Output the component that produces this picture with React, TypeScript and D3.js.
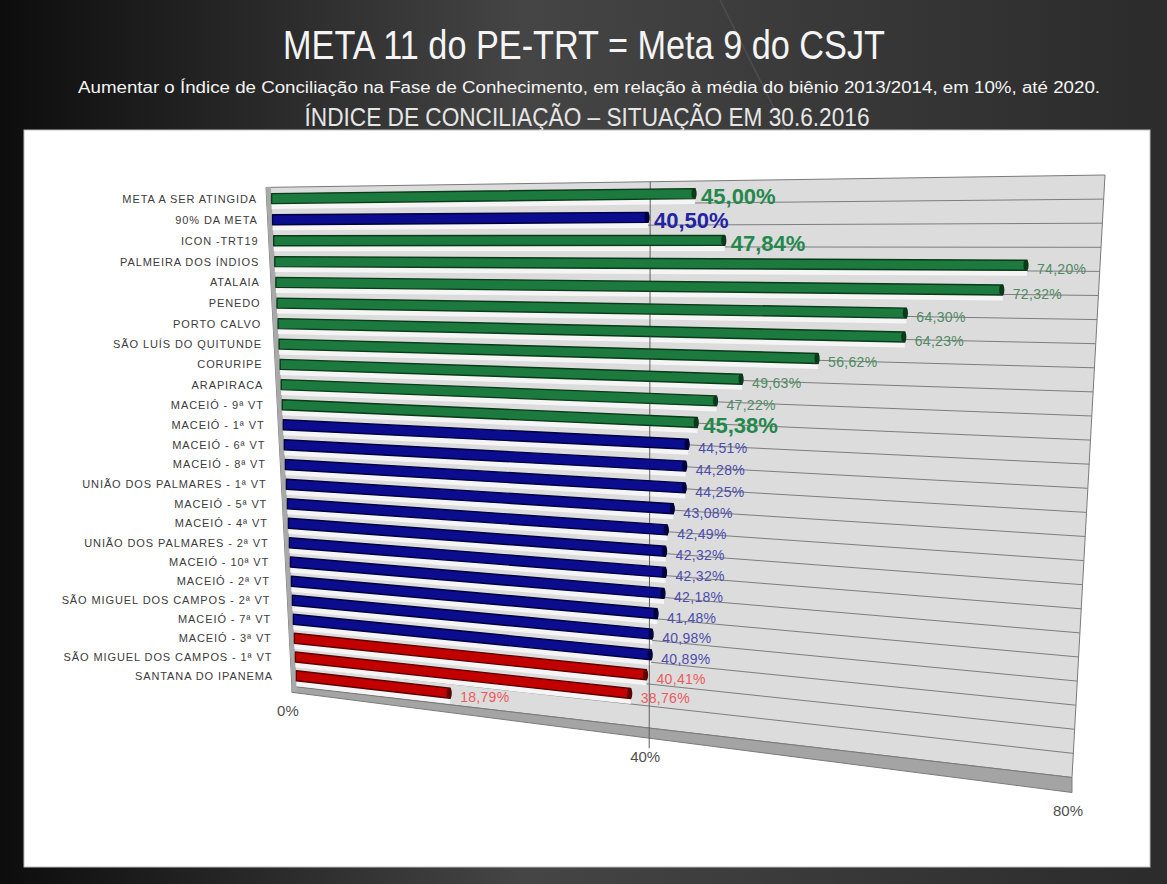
import React from 'react';
import * as d3 from 'd3';

// categorias e índices de conciliação (30.6.2016)
const categorias = [
  'META A SER ATINGIDA', '90% DA META', 'ICON -TRT19', 'PALMEIRA DOS ÍNDIOS', 'ATALAIA', 'PENEDO',
  'PORTO CALVO', 'SÃO LUÍS DO QUITUNDE', 'CORURIPE', 'ARAPIRACA', 'MACEIÓ - 9ª VT', 'MACEIÓ - 1ª VT',
  'MACEIÓ - 6ª VT', 'MACEIÓ - 8ª VT', 'UNIÃO DOS PALMARES - 1ª VT', 'MACEIÓ - 5ª VT', 'MACEIÓ - 4ª VT',
  'UNIÃO DOS PALMARES - 2ª VT', 'MACEIÓ - 10ª VT', 'MACEIÓ - 2ª VT', 'SÃO MIGUEL DOS CAMPOS - 2ª VT',
  'MACEIÓ - 7ª VT', 'MACEIÓ - 3ª VT', 'SÃO MIGUEL DOS CAMPOS - 1ª VT', 'SANTANA DO IPANEMA',
];
const indices = [
  45.0, 40.5, 47.84, 74.2, 72.32, 64.3, 64.23, 56.62, 49.63, 47.22, 45.38, 44.51, 44.28,
  44.25, 43.08, 42.49, 42.32, 42.32, 42.18, 41.48, 40.98, 40.89, 40.41, 38.76, 18.79,
];
const destaques = ['META A SER ATINGIDA', '90% DA META', 'ICON -TRT19', 'MACEIÓ - 9ª VT'];
const eixoTicks = [0, 40, 80];
const META = 45;
const META_90 = 40.5;

const cores = {
  verde: { body: '#1c7a3e', edge: '#0a3a19', label: '#4f8a64', big: '#24874c' },
  azul: { body: '#0c0c8e', edge: '#00003e', label: '#4c4cac', big: '#2323a3' },
  vermelho: { body: '#c20000', edge: '#5c0000', label: '#ec5a5a', big: '#d02020' },
};

const W = 1167;
const H = 884;

// fake 3D: every row line runs towards one vanishing point on the left
const VP = { x: -3500, y: 243 };
const persp = (a: number) => (t: number) => (a * t) / (1 - (1 - a) * t);
const rowPersp = persp(1.068);
const barPersp = persp(0.805);
const wallPersp = persp(0.845);

const rowBand = d3.scaleBand<string>().domain(categorias).range([0, 1]);
const yLeft = d3.scaleLinear().domain([0, 1]).range([188, 685]);
const wallLeftX = d3.scaleLinear().domain([188, 688]).range([266, 292]);
const wallRightX = d3.scaleLinear().domain([175, 777.5]).range([1105, 1072]);
const gridRightY = d3.scaleLinear().domain([0, categorias.length]).range([175, 777.5]);
const valT = d3.scaleLinear().domain([0, 80]).range([0, 1]);
const floorThick = d3.scaleLinear().domain([292, 1072]).range([6, 15]);
const labelRight = d3.scaleLinear().domain([198, 675]).range([257, 273]);

type Pt = { x: number; y: number };
const yAt = (p: Pt, x: number) => p.y + ((x - p.x) * (p.y - VP.y)) / (p.x - VP.x);

const gridLine = (k: number) => {
  const yR = gridRightY(k);
  const R = { x: wallRightX(yR), y: yR };
  let x = wallLeftX(yR);
  for (let i = 0; i < 5; i++) x = wallLeftX(yAt(R, x));
  return { L: { x, y: yAt(R, x) }, R };
};

const fmt = d3.formatLocale({ decimal: ',', thousands: '.', grouping: [3], currency: ['R$', ''] }).format('.2f');
const pts = (p: Pt[]) => p.map(d => `${d.x.toFixed(1)},${d.y.toFixed(1)}`).join(' ');

const HALF = 5; // half bar thickness

export default function App() {
  const grids = d3.range(categorias.length + 1).map(gridLine);
  const top = grids[0];
  const bottom = grids[categorias.length];

  const bars = categorias.map((c, i) => {
    const yL = yLeft(rowPersp((rowBand(c) as number) + rowBand.bandwidth() / 2));
    const L = { x: wallLeftX(yL) + 5, y: yL };
    const xR = wallRightX(yAt(L, 1090));
    const v = indices[i];
    const xE = L.x + barPersp(valT(v)) * (xR - L.x);
    const E = { x: xE, y: yAt(L, xE) };
    const cor = v >= META ? cores.verde : v >= META_90 ? cores.azul : cores.vermelho;
    return { c, v, L, E, cor, destaque: destaques.includes(c), labelX: labelRight(yL) };
  });

  const axisPoint = (v: number) => {
    const x = bottom.L.x + wallPersp(valT(v)) * (bottom.R.x - bottom.L.x);
    return { x, y: yAt(bottom.R, x) + floorThick(x) };
  };
  const x40Top = top.L.x + wallPersp(valT(40)) * (top.R.x - top.L.x);
  const p40 = axisPoint(40);

  return (
    <svg width={W} height={H} style={{ position: 'absolute', left: 0, top: 0 }}
      fontFamily="'Liberation Sans', Arial, sans-serif">
      <defs>
        <linearGradient id="bg" x1="0" x2="1" y1="0" y2="0">
          <stop offset="0" stopColor="#0d0d0d" />
          <stop offset="0.45" stopColor="#454545" />
          <stop offset="1" stopColor="#2b2b2b" />
        </linearGradient>
      </defs>
      <rect width={W} height={H} fill="url(#bg)" />
      <line x1={720} y1={0} x2={790} y2={140} stroke="#5a5a5a" strokeWidth={1.5} opacity={0.6} />
      <rect x={24} y={130} width={1126} height={737} fill="#ffffff" stroke="#bdbdbd" />

      {/* titles */}
      <g fill="#f4f4f4" textAnchor="middle" fontFamily="'Liberation Sans Narrow', 'Liberation Sans', sans-serif">
        <text x={584} y={59} fontSize={40} textLength={602} lengthAdjust="spacingAndGlyphs">
          META 11 do PE-TRT = Meta 9 do CSJT
        </text>
        <text x={589} y={93} fontSize={16} textLength={1022} lengthAdjust="spacingAndGlyphs">
          Aumentar o Índice de Conciliação na Fase de Conhecimento, em relação à média do biênio 2013/2014, em 10%, até 2020.
        </text>
        <text x={587} y={126} fontSize={26} fill="#e6e6e6" textLength={565} lengthAdjust="spacingAndGlyphs">
          ÍNDICE DE CONCILIAÇÃO – SITUAÇÃO EM 30.6.2016
        </text>
      </g>

      {/* back wall */}
      <polygon points={pts([top.L, top.R, bottom.R, bottom.L])} fill="#dcdcdc" stroke="#7a7a7a" />
      {grids.slice(1, -1).map((g, k) => (
        <line key={k} x1={g.L.x} y1={g.L.y} x2={g.R.x} y2={g.R.y} stroke="#7d7d7d" strokeWidth={1} />
      ))}
      {/* floor band */}
      <polygon
        points={pts([bottom.L, bottom.R, { x: bottom.R.x, y: bottom.R.y + floorThick(bottom.R.x) },
          { x: bottom.L.x, y: bottom.L.y + floorThick(bottom.L.x) }])}
        fill="#a4a4a4" stroke="#7a7a7a" />
      {/* left wall strip */}
      <polygon
        points={pts([{ x: wallLeftX(187), y: 187 }, { x: wallLeftX(187) + 5, y: 187 },
          { x: wallLeftX(692) + 5, y: 692 }, { x: wallLeftX(692), y: 692 }])}
        fill="#a9a9a9" />

      {/* lower faces of bars */}
      {bars.map(b => (
        <polygon key={'f' + b.c}
          points={pts([{ x: b.L.x, y: b.L.y + HALF }, { x: b.E.x, y: b.E.y + HALF },
            { x: b.E.x, y: b.E.y + 10.5 }, { x: b.L.x, y: b.L.y + 10.5 }])}
          fill="#f5f5f5" />
      ))}

      <line x1={x40Top} y1={yAt(top.R, x40Top)} x2={p40.x} y2={p40.y + 10} stroke="#5e5e5e" strokeWidth={1} />

      {/* bars */}
      {bars.map(b => (
        <g key={'b' + b.c}>
          <polygon
            points={pts([{ x: b.L.x, y: b.L.y - HALF }, { x: b.E.x, y: b.E.y - HALF },
              { x: b.E.x, y: b.E.y + HALF }, { x: b.L.x, y: b.L.y + HALF }])}
            fill={b.cor.body} stroke={b.cor.edge} strokeWidth={1.4} strokeLinejoin="round" />
          <ellipse cx={b.E.x - 1} cy={b.E.y} rx={2.6} ry={HALF + 0.2} fill={b.cor.edge} />
        </g>
      ))}

      {/* category labels */}
      <g fontSize={11} fill="#3c3c3c" textAnchor="end" letterSpacing={0.9}>
        {bars.map(b => (
          <text key={'c' + b.c} x={b.labelX} y={b.L.y} dominantBaseline="central">{b.c}</text>
        ))}
      </g>

      {/* value labels */}
      {bars.map(b =>
        b.destaque ? (
          <text key={'v' + b.c} x={b.E.x + 6} y={b.E.y + 3} fontSize={22} fontWeight="bold"
            fill={b.cor.big} dominantBaseline="central">{fmt(b.v)}%</text>
        ) : (
          <text key={'v' + b.c} x={b.E.x + 10} y={b.E.y + 4} fontSize={14} letterSpacing={0.3}
            fill={b.cor.label} dominantBaseline="central">{fmt(b.v)}%</text>
        ),
      )}

      {/* value axis */}
      <g fontSize={15} fill="#505050" textAnchor="middle">
        {eixoTicks.map(t => {
          const p = axisPoint(t);
          return (
            <text key={t} x={p.x - 4} y={p.y + 18} dominantBaseline="central">{t}%</text>
          );
        })}
      </g>
    </svg>
  );
}
